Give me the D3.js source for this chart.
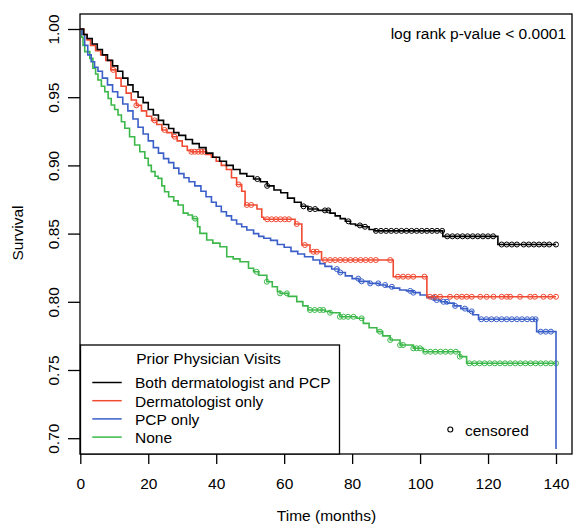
<!DOCTYPE html>
<html><head><meta charset="utf-8">
<script src="https://cdn.jsdelivr.net/npm/d3@7"></script>
<style>
body{margin:0;background:#fff}
text{font-family:"Liberation Sans",Arial,sans-serif;fill:#000}
</style>
</head><body><svg id="c" width="573" height="525"></svg>
<script>
// ---- Data ----
const xTicks = [0, 20, 40, 60, 80, 100, 120, 140];
const yTicks = [0.70, 0.75, 0.80, 0.85, 0.90, 0.95, 1.00];
const seriesNames = ["Both dermatologist and PCP", "Dermatologist only", "PCP only", "None"];
const seriesColors = ["#000000", "#f04a32", "#3a5fc8", "#3cb84a"];

const bothT = [0,1,2,3.5,5,6.5,8,9.5,11,12.5,14,15.5,17,18.5,20,21.5,23,24.5,26,27.5,29,31,33,35,37,39,41,43,45,47,49,51,53,55,57,59,61,63,65,67,70,73.5,75,76.5,78,79.5,81,83,85,86.7,106.7,122.9,140];
const bothS = [1,.996,.993,.989,.985,.981,.977,.973,.969,.964,.959,.954,.950,.946,.941,.937,.933,.930,.927,.924,.922,.919,.916,.913,.909,.906,.903,.900,.897,.894,.892,.890,.888,.885,.882,.880,.876,.873,.870,.868,.867,.865,.863,.861,.859,.857,.856,.855,.853,.852,.848,.842,.842];
const bothCens = [52.1,55.0,65.7,67.6,69.1,72,73,78.9,82.3,83.8,87,88.5,90,91.5,93,94.5,96,97.5,99,100.5,102,103.5,105,106.5,108,109.5,111,112.5,114,115.5,117,118.5,120,121.5,124,125.5,127,128.5,130.5,132,133.5,135,136.5,138,140];

const dermT = [0,1,2,3,4.5,6,7.5,9,10.5,12,13.5,15,16.5,18,19.5,21,22.5,24,25.5,27,28.5,30,31.5,32.5,37,38.6,40,41.5,43,44.5,46,47.5,48.5,52,53.4,54,63.2,65.2,67.6,71,92.1,102,140];
const dermS = [1,.996,.992,.988,.984,.981,.977,.970,.964,.958,.953,.948,.944,.940,.936,.933,.930,.926,.924,.921,.918,.914,.911,.910,.908,.906,.903,.900,.897,.891,.886,.881,.871,.868,.862,.8605,.857,.8416,.8367,.8306,.8184,.8037,.8037];
const dermCens = [9.7,16.5,21.9,24.8,27.8,32.7,33.7,34.7,35.7,36.6,46.6,49,50.3,55,56.3,57.6,58.9,60.2,61.4,63.7,66.1,68.6,69.6,72,73.5,75,76.5,78,79.5,81,82.5,84,85.5,87,91.2,93.5,95,96.5,98,101.3,102.9,104.4,105.9,108.8,110.8,112.3,113.7,115.2,117.7,119.6,121.6,124,125.5,126.5,129.4,132.4,133.8,136.3,138.3,140];

const pcpT = [0,0.5,1.3,2.2,3.2,4.2,5.2,6.5,8,9.5,11,12.5,14,15.5,17,18.5,20,21.5,23,24.5,26,27.5,29,30.5,32,33.7,35.5,37,38.6,40,41.5,43,44.5,46,47.5,49,51,52.5,54,56,58,60,62,64,66,68.5,70.5,72,74,76,78,80,82,85,88,90,92,94,96,98,100,102,104,106,108,110,112,114,115.5,117.2,134.3,140];
const pcpS = [1,.996,.988,.981,.976,.972,.969,.964,.959,.954,.950,.945,.940,.934,.928,.923,.918,.913,.909,.905,.902,.898,.894,.891,.888,.885,.881,.877,.873,.870,.866,.863,.860,.857,.855,.8526,.850,.848,.8466,.845,.842,.840,.837,.835,.833,.8306,.828,.826,.824,.8215,.819,.817,.815,.8135,.8123,.811,.810,.8087,.808,.8067,.805,.803,.8013,.800,.799,.797,.795,.793,.7905,.7872,.7781,.692];
const pcpCens = [75.5,76.5,81.8,82.8,85.3,87.7,89.7,91.7,97.1,98,103.9,104.9,106.9,107.9,110.3,113.2,115.2,118,119.5,121,122.5,124,125.5,127,128.5,130,131.5,133,134,135.5,137,138.5];

const noneT = [0,0.4,0.8,1.3,2.8,3.7,4.5,5.2,6.2,7.2,8.2,9.1,10.1,11.1,12.1,13.1,14.5,16,17.5,19,20,20.9,22,22.9,24,24.8,26,27.5,28.8,30.3,31.7,33,34.5,35.2,37.2,39,41.1,43.1,45,47,49.5,51,52.5,54.9,56.5,58,58.8,61.2,63.7,65.5,67,72,73.5,76.4,81.4,83.3,85,87.3,89,91.2,94.1,98,101,111.7,113.7,140];
const noneS = [1,.994,.988,.9834,.9785,.9712,.967,.9626,.958,.954,.949,.9443,.941,.937,.932,.9272,.921,.915,.910,.9052,.900,.8954,.892,.8905,.885,.8807,.877,.874,.871,.865,.8636,.861,.855,.8502,.8453,.843,.8404,.833,.8315,.8294,.8246,.822,.8195,.8147,.811,.8075,.8062,.804,.8001,.797,.794,.793,.792,.789,.7879,.7842,.781,.7781,.775,.772,.7683,.7659,.7634,.7598,.7549,.7549];
const noneCens = [33.8,51.9,54.9,58.8,60.8,67.6,69,70.5,71.5,73.5,76.4,77.5,78.8,80.4,82.8,88.2,91.2,94.1,95,98,99,100,101.5,103,104.5,106,107.5,109,110.5,111.7,114.5,116,117.5,119,120.5,122,123.5,125,126.5,128,129.5,131,132.5,134,135.5,137,138.5,140];

const seriesT = [bothT, dermT, pcpT, noneT];
const seriesS = [bothS, dermS, pcpS, noneS];
const seriesCens = [bothCens, dermCens, pcpCens, noneCens];

// ---- Chart ----
const svg = d3.select("#c");
const FS = 15.5;
const x = d3.scaleLinear().domain([0, 140]).range([80.3, 556]);
const y = d3.scaleLinear().domain([0.70, 1.00]).range([438.2, 29]);
const box = {l: 80, t: 14, r: 572, b: 454};

// curves (draw in reverse order so black on top)
const line = d3.line().x(d => x(d[0])).y(d => y(d[1])).curve(d3.curveStepAfter);
const order = [3, 2, 1, 0];
order.forEach(i => {
  const pts = seriesT[i].map((t, k) => [t, seriesS[i][k]]);
  svg.append("path").attr("d", line(pts)).attr("fill", "none")
    .attr("stroke", seriesColors[i]).attr("stroke-width", 1.6);
  const bis = d3.bisector(d => d).right;
  svg.append("g").selectAll("circle").data(seriesCens[i]).join("circle")
    .attr("cx", d => x(d))
    .attr("cy", d => y(seriesS[i][Math.max(0, bis(seriesT[i], d) - 1)]))
    .attr("r", 2.5).attr("fill", "none")
    .attr("stroke", seriesColors[i]).attr("stroke-width", 1);
});

// box
svg.append("rect").attr("x", box.l).attr("y", box.t)
  .attr("width", box.r - box.l).attr("height", box.b - box.t)
  .attr("fill", "none").attr("stroke", "#000").attr("stroke-width", 1.3);

// x axis
const gx = svg.append("g").attr("transform", `translate(0,${box.b})`)
  .call(d3.axisBottom(x).tickValues(xTicks).tickSize(10).tickSizeOuter(0).tickFormat(d3.format("d")));
gx.select(".domain").remove();
gx.selectAll(".tick line").attr("stroke", "#000").attr("stroke-width", 1.3);
gx.selectAll(".tick text").attr("y", 34.5).attr("dy", null)
  .style("font-size", FS + "px").style("font-family", '"Liberation Sans",Arial,sans-serif');

// y axis
const gy = svg.append("g").attr("transform", `translate(${box.l},0)`)
  .call(d3.axisLeft(y).tickValues(yTicks).tickSize(12).tickSizeOuter(0).tickFormat(d3.format(".2f")));
gy.select(".domain").remove();
gy.selectAll(".tick line").attr("stroke", "#000").attr("stroke-width", 1.3);
gy.selectAll(".tick text").attr("x", null).attr("dy", null).attr("y", null)
  .attr("transform", "translate(-21,0) rotate(-90)").attr("text-anchor", "middle")
  .style("font-size", FS + "px").style("font-family", '"Liberation Sans",Arial,sans-serif');

// axis titles
svg.append("text").attr("x", 326.5).attr("y", 520.5).attr("text-anchor", "middle")
  .style("font-size", "15.5px").text("Time (months)");
svg.append("text").attr("transform", "translate(23,233) rotate(-90)").attr("text-anchor", "middle")
  .style("font-size", FS + "px").text("Survival");

// p-value
svg.append("text").attr("x", 566).attr("y", 38.5).attr("text-anchor", "end")
  .style("font-size", FS + "px").text("log rank p-value < 0.0001");

// legend
const lg = svg.append("g");
lg.append("rect").attr("x", 80.5).attr("y", 345).attr("width", 259).attr("height", 109)
  .attr("fill", "#fff").attr("stroke", "#000").attr("stroke-width", 1.3);
lg.append("text").attr("x", 208.5).attr("y", 363.5).attr("text-anchor", "middle")
  .style("font-size", FS + "px").text("Prior Physician Visits");
seriesNames.forEach((nm, i) => {
  const by = 388.3 + i * 18.2;
  lg.append("line").attr("x1", 92.3).attr("x2", 121.7).attr("y1", by - 5.8).attr("y2", by - 5.8)
    .attr("stroke", seriesColors[i]).attr("stroke-width", 1.5);
  lg.append("text").attr("x", 135).attr("y", by).style("font-size", FS + "px").text(nm);
});

// censored legend
svg.append("circle").attr("cx", 450.3).attr("cy", 429.5).attr("r", 2.5)
  .attr("fill", "none").attr("stroke", "#000").attr("stroke-width", 1.1);
svg.append("text").attr("x", 465).attr("y", 436).style("font-size", FS + "px").text("censored");
</script>
</body></html>
